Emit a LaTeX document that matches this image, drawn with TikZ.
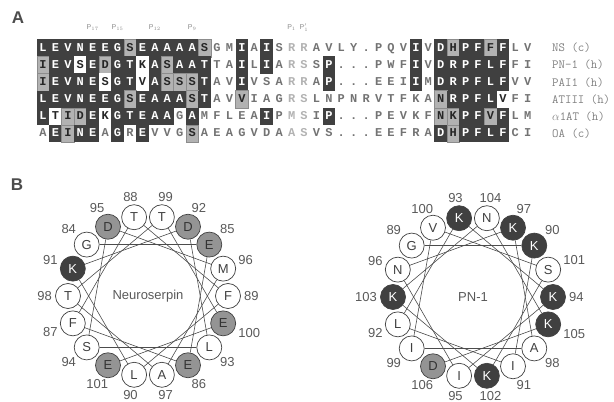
\documentclass[tikz,border=0pt]{standalone}
\usepackage{fontspec}
\setmainfont{Liberation Sans}
\newfontfamily\alnfont{Liberation Mono}
\usetikzlibrary{calc}
\definecolor{shadedark}{gray}{0.25}
\definecolor{shadegray}{gray}{0.70}
\definecolor{wheelgray}{gray}{0.58}
\tikzset{
  res/.style={minimum width=12.7pt,minimum height=17.4pt,inner sep=0pt,
    text height=7pt,text depth=0pt,font=\alnfont\bfseries\fontsize{12}{12}\selectfont},
  res d/.style={res,fill=shadedark,text=white},
  res g/.style={res,fill=shadegray,draw=black!45,line width=0.3pt,text=black!85},
  res w/.style={res,fill=white,text=black!85},
  res n/.style={res,text=black!55},
  res o/.style={res,text=black!30},
  seqname/.style={anchor=west,inner sep=0pt,text=black!50,font=\ttfamily\fontsize{12.5}{12.5}\selectfont},
  ploc/.style={inner sep=0pt,text=black!45,font=\fontsize{7}{7}\selectfont},
  panel/.style={inner sep=0pt,text=black!70,font=\bfseries\fontsize{17}{17}\selectfont},
  aa/.style={circle,draw=black!75,line width=0.7pt,minimum size=25pt,inner sep=0pt,
    fill=white,text=black!75,font=\fontsize{13}{13}\selectfont},
  aa w/.style={aa},
  aa e/.style={aa,fill=wheelgray,text=black!80},
  aa k/.style={aa,fill=shadedark,text=white},
  num/.style={inner sep=0pt,text=black!65,font=\fontsize{13}{13}\selectfont},
  turn/.style={draw=black!70,line width=0.6pt}
}
\begin{document}
\begin{tikzpicture}[x=1pt,y=1pt]
\useasboundingbox (0,0) rectangle (614,402);
\node[panel] (A) at (18,384) {A};
\node[panel] (B) at (17,217) {B};
% reactive loop positions
\foreach \p/\c in {17/5,15/7,12/10,9/13,1/21}
  \node[ploc] (p\p) at ({43+(\c-1)*12.43},374) {P$_{\p}$};
\node[ploc] (p1b) at ({43+21*12.43},374) {P$_{1}'$};
% alignment
\foreach \ch/\k [count=\c] in {L/d,E/d,V/d,N/d,E/d,E/d,G/d,S/g,E/d,A/d,A/d,A/d,A/d,S/g,G/n,M/n,I/d,A/n,I/d,S/n,R/o,R/o,A/n,V/n,L/n,Y/n,./n,P/n,Q/n,V/n,I/d,V/n,D/d,H/g,P/d,F/d,F/g,F/d,L/n,V/n}
  \node[res \k] (ns-\c) at ({43+(\c-1)*12.43},354) {\ch};
\foreach \ch/\k [count=\c] in {I/g,E/d,V/d,S/w,E/d,D/g,G/d,T/d,K/w,A/d,S/g,A/d,A/d,T/d,T/n,A/n,I/d,L/n,I/d,A/n,R/o,S/o,S/n,P/d,./n,./n,./n,P/n,W/n,F/n,I/d,V/n,D/d,R/d,P/d,F/d,L/d,F/d,F/n,I/n}
  \node[res \k] (pn-\c) at ({43+(\c-1)*12.43},336.9) {\ch};
\foreach \ch/\k [count=\c] in {I/g,E/d,V/d,N/d,E/d,S/w,G/d,T/d,V/w,A/d,S/g,S/g,S/g,T/d,A/n,V/n,I/d,V/n,S/n,A/n,R/o,R/o,A/n,P/d,./n,./n,./n,E/n,E/n,I/n,I/d,M/n,D/d,R/d,P/d,F/d,L/d,F/d,V/n,V/n}
  \node[res \k] (pai-\c) at ({43+(\c-1)*12.43},319.8) {\ch};
\foreach \ch/\k [count=\c] in {L/d,E/d,V/d,N/d,E/d,E/d,G/d,S/g,E/d,A/d,A/d,A/d,S/g,T/d,A/n,V/n,V/g,I/n,A/n,G/n,R/o,S/o,L/n,N/n,P/n,N/n,R/n,V/n,T/n,F/n,K/n,A/n,N/g,R/d,P/d,F/d,L/d,V/w,F/n,I/n}
  \node[res \k] (at-\c) at ({43+(\c-1)*12.43},302.7) {\ch};
\foreach \ch/\k [count=\c] in {L/d,T/w,I/g,D/g,E/d,K/w,G/d,T/d,E/d,A/d,A/d,G/n,A/d,M/n,F/n,L/n,E/n,A/n,I/d,P/n,M/o,S/o,I/n,P/d,./n,./n,./n,P/n,E/n,V/n,K/n,F/n,N/g,K/g,P/d,F/d,V/g,F/d,L/n,M/n}
  \node[res \k] (aat-\c) at ({43+(\c-1)*12.43},285.6) {\ch};
\foreach \ch/\k [count=\c] in {A/n,E/d,I/g,N/d,E/d,A/n,G/d,R/n,E/d,V/n,V/n,G/n,S/g,A/n,E/n,A/n,G/n,V/n,D/n,A/n,A/o,S/o,V/n,S/n,./n,./n,./n,E/n,E/n,F/n,R/n,A/n,D/d,H/g,P/d,F/d,L/d,F/d,C/n,I/n}
  \node[res \k] (oa-\c) at ({43+(\c-1)*12.43},268.5) {\ch};
\node[seqname] (nsname) at (552,354) {NS (c)};
\node[seqname] (pnname) at (552,336.9) {PN-1 (h)};
\node[seqname] (painame) at (552,319.8) {PAI1 (h)};
\node[seqname] (atname) at (552,302.7) {ATIII (h)};
\node[seqname] (aatname) at (552,285.6) {$\alpha$1AT (h)};
\node[seqname] (oaname) at (552,268.5) {OA (c)};
% helical wheel, neuroserpin
\coordinate (nsc) at (148,106);
\node[num] (nstitle) at (nsc) {Neuroserpin};
\foreach \n/\l/\f in {84/G/w,85/E/e,86/E/e,87/F/w,88/T/w,89/F/w,90/L/w,91/K/k,92/D/e,
    93/L/w,94/S/w,95/D/e,96/M/w,97/A/w,98/T/w,99/T/w,100/E/e,101/E/e}{
  \pgfmathtruncatemacro\ang{mod(3700-(\n-88)*100,360)}
  \pgfmathtruncatemacro\opp{mod(\ang+180,360)}
  \node[aa \f] (nsw\n) at ($(nsc)+(\ang:80)$) {\l};
  \node[num,anchor=\opp] (nsl\n) at ($(nsc)+(\ang:96)$) {\n};
}
\foreach \n [evaluate=\n as \m using int(\n+1)] in {84,...,100}
  \draw[turn] (nsw\n) -- (nsw\m);
% helical wheel, PN-1
\coordinate (pnc) at (473,105);
\node[num] (pntitle) at (pnc) {PN-1};
\foreach \n/\l/\f in {89/G/w,90/K/k,91/I/w,92/L/w,93/K/k,94/K/k,95/I/w,96/N/w,97/K/k,
    98/A/w,99/I/w,100/V/w,101/S/w,102/K/k,103/K/k,104/N/w,105/K/k,106/D/e}{
  \pgfmathtruncatemacro\ang{mod(3700-(\n-93)*100,360)}
  \pgfmathtruncatemacro\opp{mod(\ang+180,360)}
  \node[aa \f] (pnw\n) at ($(pnc)+(\ang:80)$) {\l};
  \node[num,anchor=\opp] (pnl\n) at ($(pnc)+(\ang:96)$) {\n};
}
\foreach \n [evaluate=\n as \m using int(\n+1)] in {89,...,105}
  \draw[turn] (pnw\n) -- (pnw\m);
\end{tikzpicture}
\end{document}
